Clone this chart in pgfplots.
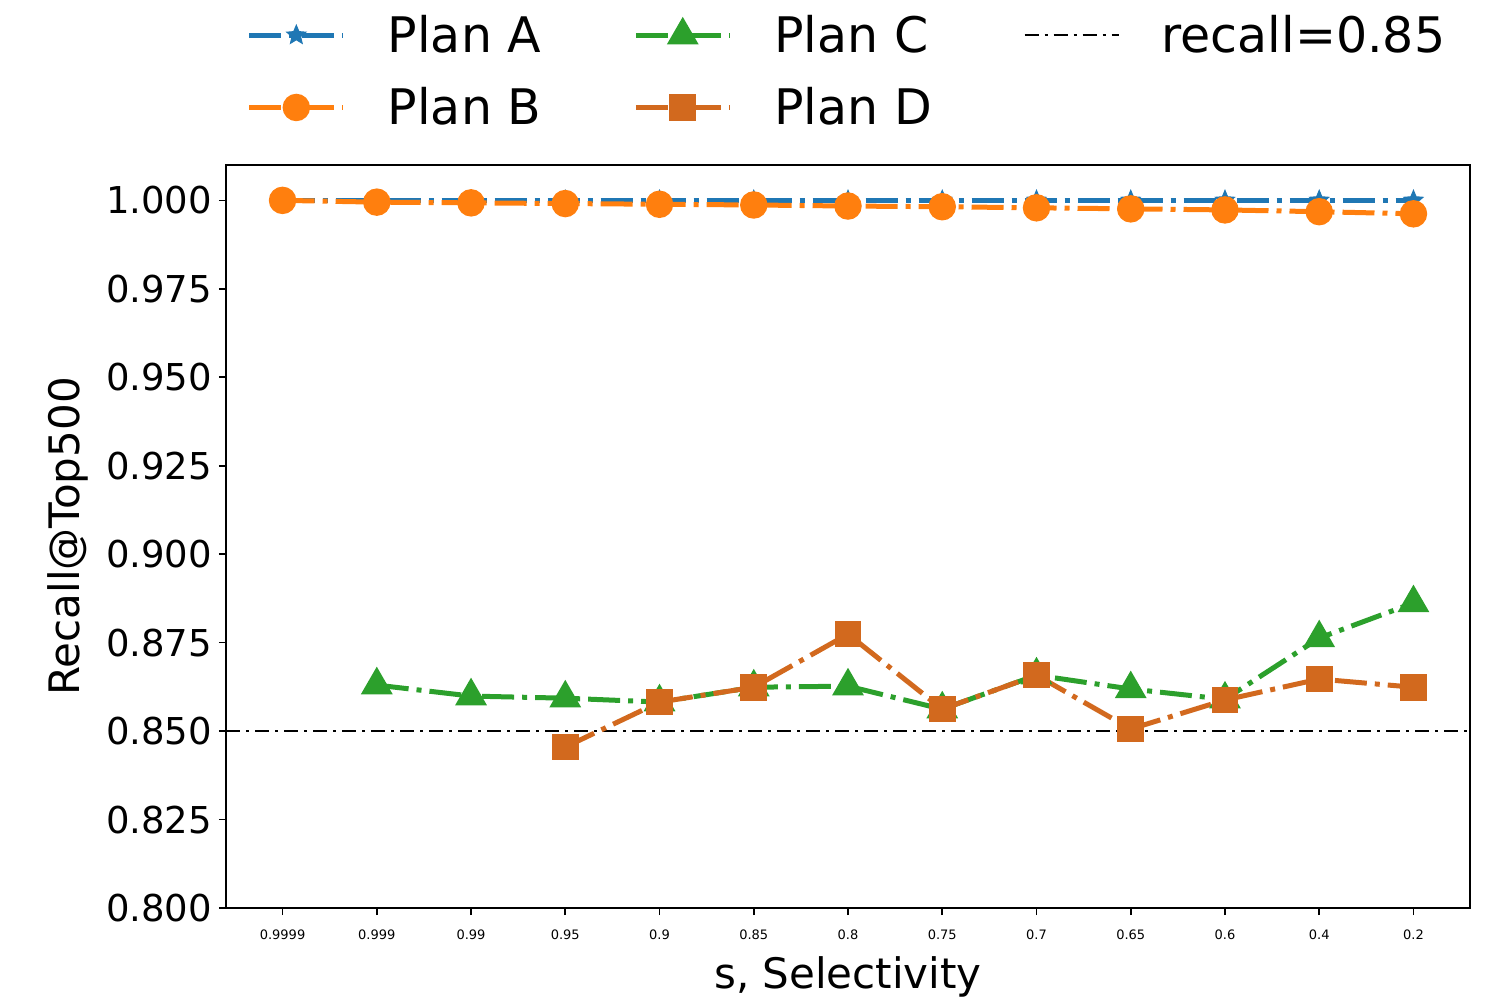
\documentclass[border=0pt]{standalone}
\usepackage{pgfplots}
\pgfplotsset{compat=1.18}
\usepackage{fontspec}
\setmainfont{DejaVu Sans}
\definecolor{cA}{HTML}{1F77B4}
\definecolor{cB}{HTML}{FF7F0E}
\definecolor{cC}{HTML}{2CA02C}
\definecolor{cD}{HTML}{D2691E}
\makeatletter
\pgfdeclareplotmark{fstar}{%
  \pgfpathmoveto{\pgfpointpolar{90}{\pgfplotmarksize}}%
  \pgfpathlineto{\pgfpointpolar{126}{0.45*\pgfplotmarksize}}%
  \pgfpathlineto{\pgfpointpolar{162}{\pgfplotmarksize}}%
  \pgfpathlineto{\pgfpointpolar{198}{0.45*\pgfplotmarksize}}%
  \pgfpathlineto{\pgfpointpolar{234}{\pgfplotmarksize}}%
  \pgfpathlineto{\pgfpointpolar{270}{0.45*\pgfplotmarksize}}%
  \pgfpathlineto{\pgfpointpolar{306}{\pgfplotmarksize}}%
  \pgfpathlineto{\pgfpointpolar{342}{0.45*\pgfplotmarksize}}%
  \pgfpathlineto{\pgfpointpolar{18}{\pgfplotmarksize}}%
  \pgfpathlineto{\pgfpointpolar{54}{0.45*\pgfplotmarksize}}%
  \pgfpathclose
  \pgfusepathqfillstroke}
\makeatother
\begin{document}
\begin{tikzpicture}
\begin{axis}[
  scale only axis,
  width=622pt, height=371.5pt,
  xmin=-0.6, xmax=12.6,
  ymin=0.8, ymax=1.01,
  xtick={0,...,12},
  xticklabels={0.9999,0.999,0.99,0.95,0.9,0.85,0.8,0.75,0.7,0.65,0.6,0.4,0.2},
  x tick label style={font=\fontsize{6.5}{8}\selectfont, yshift=-4pt},
  ytick={0.8,0.825,0.85,0.875,0.9,0.925,0.95,0.975,1.0},
  yticklabel style={font=\fontsize{18.5}{20}\selectfont,
    /pgf/number format/.cd, fixed, fixed zerofill, precision=3, assume math mode=true},
  scaled y ticks=false,
  tick align=outside,
  tick pos=left,
  major tick length=3.5pt,
  every tick/.style={black, line width=0.8pt},
  axis line style={line width=0.8pt},
  xlabel={s, Selectivity},
  ylabel={Recall@Top500},
  label style={font=\fontsize{21}{23}\selectfont},
  xlabel style={yshift=-1.5pt},
  ylabel style={yshift=2pt},
  legend columns=3,
  legend style={draw=none, fill=none, at={(0.5,1)}, anchor=south, yshift=14.5pt,
    font=\fontsize{24.5}{28}\selectfont, row sep=12pt,
    /tikz/every even column/.append style={column sep=44pt}},
  legend cell align=left,
  legend image code/.code={
    \draw[#1] (0pt,0pt) -- (47pt,0pt);
    \draw[#1, solid, only marks] plot coordinates {(23.5pt,0pt)};
    \path (66pt,0pt);
  },
  every axis plot/.append style={line width=2.5pt,
    dash pattern=on 16pt off 4pt on 2.5pt off 4pt},
]
\addplot[cA, mark=fstar, mark size=5pt, mark options={solid, line width=0.5pt}] coordinates {
(0,1.0) (1,1.0) (2,1.0) (3,1.0) (4,1.0) (5,1.0) (6,1.0) (7,1.0) (8,1.0) (9,1.0) (10,1.0) (11,1.0) (12,1.0)};
\addlegendentry{Plan A}
\addplot[cC, mark=triangle*, mark size=6.7pt, mark options={solid}] coordinates {
(1,0.8630) (2,0.8599) (3,0.8593) (4,0.8582) (5,0.8624) (6,0.8627) (7,0.8562) (8,0.8658) (9,0.8619) (10,0.8590) (11,0.8763) (12,0.8862)};
\addlegendentry{Plan C}
\addplot[black, line width=0.9pt, dash pattern=on 7pt off 3pt on 1.5pt off 3pt] coordinates {(-0.6,0.85) (12.6,0.85)};
\addlegendentry{recall=0.85}
\addplot[cB, mark=*, mark size=5.6pt, mark options={solid}] coordinates {
(0,1.0000) (1,0.9995) (2,0.9993) (3,0.9991) (4,0.9989) (5,0.9987) (6,0.9984) (7,0.9982) (8,0.9979) (9,0.9976) (10,0.9973) (11,0.9968) (12,0.9962)};
\addlegendentry{Plan B}
\addplot[cD, mark=square*, mark size=5.4pt, mark options={solid}] coordinates {
(3,0.8455) (4,0.8582) (5,0.8624) (6,0.8774) (7,0.8562) (8,0.8658) (9,0.8506) (10,0.8588) (11,0.8647) (12,0.8624)};
\addlegendentry{Plan D}
\end{axis}
\path (current axis.south west) ++(-113pt,-49pt) coordinate (bbA);
\path (current axis.north east) ++(21pt,82.5pt) coordinate (bbB);
\useasboundingbox (bbA) rectangle (bbB);
\end{tikzpicture}
\end{document}
